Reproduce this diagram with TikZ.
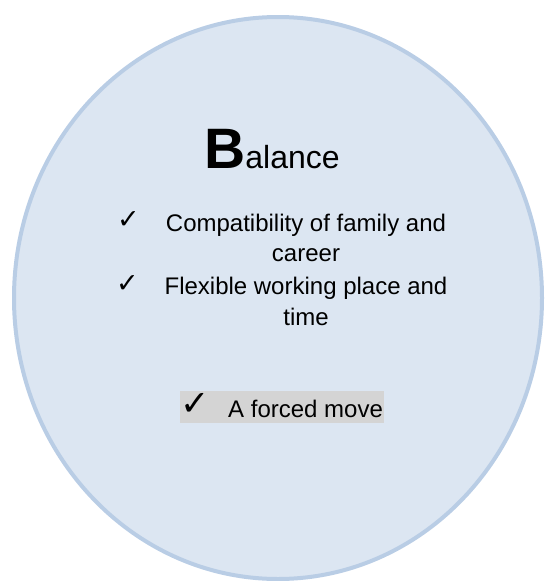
\documentclass[tikz,border=0pt]{standalone}
\usepackage{fontspec}
\setmainfont{Liberation Sans}
\newfontfamily\symfont{DejaVu Sans}
\definecolor{ovalfill}{HTML}{DCE6F2}
\definecolor{ovalline}{HTML}{B9CDE5}
\definecolor{hlgray}{HTML}{D4D4D4}
\begin{document}
\begin{tikzpicture}[x=1pt,y=-1pt,
  body/.style={inner sep=0pt,anchor=base,font=\fontsize{24}{28}\selectfont},
  tick/.style={inner sep=0pt,anchor=base west,font=\symfont\fontsize{27}{30}\selectfont},
  bigtick/.style={inner sep=0pt,anchor=base west,font=\symfont\fontsize{35}{38}\selectfont}]
\useasboundingbox (0,0) rectangle (544,581);
\clip (0,0) rectangle (544,581);
\path[fill=ovalfill,draw=ovalline,line width=4pt] (278,298) ellipse [x radius=264, y radius=281];
\node[inner sep=0pt,anchor=base] (title) at (272,168)
  {{\bfseries\fontsize{57}{60}\selectfont B}{\fontsize{32}{36}\selectfont alance}};
\node[tick] (t1) at (117,228) {✓};
\node[body] (l1) at (306,231) {Compatibility of family and};
\node[body] (l2) at (306,261) {career};
\node[tick] (t2) at (116,292) {✓};
\node[body] (l3) at (306,294) {Flexible working place and};
\node[body] (l4) at (306,325) {time};
\path[fill=hlgray] (180,391) rectangle (384,423);
\node[bigtick] (t3) at (180,415) {✓};
\node[body,anchor=base west] (l5) at (228,417) {A forced move};
\end{tikzpicture}
\end{document}
